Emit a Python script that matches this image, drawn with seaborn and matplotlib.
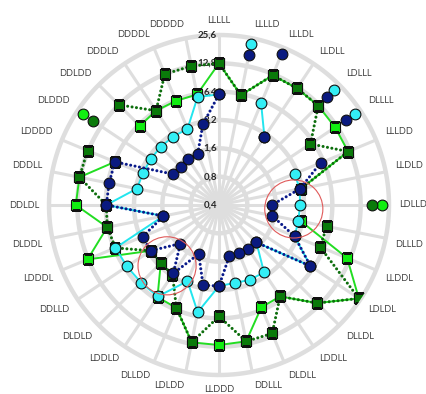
import numpy as np
import matplotlib
matplotlib.use("Agg")
import matplotlib.pyplot as plt
import seaborn as sns
import pandas as pd

categories = ["LLLLL", "LLLLD", "LLLDL", "LLDLL", "LDLLL", "DLLLL", "LLLDD", "LLDLD",
              "LDLLD", "DLLLD", "LLDDL", "LDLDL", "DLLDL", "LDDLL", "DLDLL", "DDLLL",
              "LLDDD", "LDLDD", "DLLDD", "LDDLD", "DLDLD", "DDLLD", "LDDDL", "DLDDL",
              "DDLDL", "DDDLL", "LDDDD", "DLDDD", "DDLDD", "DDDLD", "DDDDL", "DDDDD"]

ring_values = [0.4, 0.8, 1.6, 3.2, 6.4, 12.8, 25.6]
ring_labels = ["0,4", "0,8", "1,6", "3,2", "6,4", "12,8", "25,6"]

nan = np.nan
lime_vals = [12.8, 6.2, 12.4, 12.4, 12.4, 12.2, 12.2, 3.1, nan, 3.1, 11.9, 24.5, 11.9, 5.9, 6.0, 12.0,
             12.3, 12.3, 6.1, 6.0, 3.0, 3.0, 13.0, 6.5, 13.3, 13.0, 6.3, nan, 6.2, 6.4, 6.3, 6.3]
dark_vals = [12.8, 6.2, 12.4, 12.4, 12.4, 5.9, 12.2, 3.1, nan, 5.9, 5.8, 24.5, 11.9, 5.9, 12.0, 12.0,
             6.1, 12.3, 6.1, 3.1, 3.0, 3.0, 6.2, 6.5, 6.3, 13.0, 13.0, nan, 12.8, 6.4, 12.8, 12.8]
cyan_vals = [6.0, nan, 5.9, 2.96, nan, nan, 2.96, 3.0, 2.9, 2.9, 2.96, 5.9, 1.46, 2.9, 2.9, 2.8,
             2.9, 5.8, 3.0, 5.9, 5.9, 6.0, 6.2, 1.6, 6.3, 3.1, 3.0, 3.0, 3.0, 3.0, 3.0, 5.9]
navy_vals = [6.0, nan, nan, 2.96, nan, nan, 5.9, 3.0, 1.46, 1.5, 2.96, 5.9, 1.46, 1.46, 1.44, 1.44,
             2.9, 2.96, 1.46, 3.0, 1.52, 3.0, 3.0, 1.6, 6.3, 6.2, 6.3, 1.56, 1.5, 1.56, 1.56, 3.0]

# isolated points outside the main traces
cyan_extra_idx = [1, 4, 5]
cyan_extra_vals = [22.2, 21.6, 21.6]
navy_extra_idx = [1, 2, 4, 5]
navy_extra_vals = [17.0, 22.0, 16.7, 17.0]
lime_extra_idx = [8, 27]
lime_extra_vals = [21.6, 21.8]
dark_extra_idx = [8, 27]
dark_extra_vals = [16.7, 16.5]

# highlighted spots: (category position, value)
highlight_pos = [8.27, 19.6]
highlight_vals = [2.5, 2.83]

n = len(categories)
theta = np.arange(n) * 2 * np.pi / n

sns.set_style("white")
plt.rcParams["font.family"] = ["Lato", "DejaVu Sans"]

fig = plt.figure(figsize=(4.27, 3.94), dpi=100)
cx, cy, R = 219, 205, 170
ax = fig.add_axes([(cx - R) / 427, (394 - cy - R) / 394, 2 * R / 427, 2 * R / 394], projection="polar")
ax.set_theta_zero_location("N")
ax.set_theta_direction(-1)
ax.set_rscale("log", base=2)
ax.set_rlim(ring_values[0], ring_values[-1])
ax.grid(False)
ax.set_xticks([])
ax.set_yticks([])
ax.spines["polar"].set_visible(False)
ax.patch.set_alpha(0)

grid_color = "#dedede"
circ = np.linspace(0, 2 * np.pi, 400)
for v in ring_values[1:]:
    ax.plot(circ, np.full_like(circ, v), color=grid_color, lw=3.2, zorder=0, clip_on=False)
for t in theta:
    ax.plot([t, t], [ring_values[0], ring_values[-1]], color=grid_color, lw=2.2, zorder=0,
            solid_capstyle="butt", clip_on=False)

for v, lab in zip(ring_values, ring_labels):
    ax.annotate(lab, (0, v), xytext=(-1.5, 0), textcoords="offset points", ha="right", va="center",
                fontsize=7, fontweight="bold", color="#262626", zorder=1)

for t, lab in zip(theta, categories):
    s, c = np.sin(t), np.cos(t)
    ha = "left" if s > 0.15 else ("right" if s < -0.15 else "center")
    va = "bottom" if c > 0.15 else ("top" if c < -0.15 else "center")
    ax.annotate(lab, (t, ring_values[-1]), xytext=(7 * s, 7 * c), textcoords="offset points",
                ha=ha, va=va, fontsize=6.6, color="#404040", annotation_clip=False)


def runs(vals):
    """Contiguous stretches of valid values around the closed loop."""
    vals = np.asarray(vals, dtype=float)
    th = np.append(theta, theta[0] + 2 * np.pi)
    vv = np.append(vals, vals[0])
    out, cur = [], []
    for t, v in zip(th, vv):
        if np.isnan(v):
            if len(cur) > 1:
                out.append(cur)
            cur = []
        else:
            cur.append((t, v))
    if len(cur) > 1:
        out.append(cur)
    return out


dotted = (0, (0.01, 1.45))
series = [
    (lime_vals, lime_extra_idx, lime_extra_vals, "#22dd22", "-", 1.4, "s", "#11ee11"),
    (dark_vals, dark_extra_idx, dark_extra_vals, "#0d6e0d", dotted, 2.2, "s", "#0a7a0a"),
    (cyan_vals, cyan_extra_idx, cyan_extra_vals, "#22e5ee", "-", 1.4, "o", "#33eef5"),
    (navy_vals, navy_extra_idx, navy_extra_vals, "#0a1a8a", dotted, 2.2, "o", "#0a1a80"),
]
z = 3
for vals, eidx, evals, lc, ls, lw, mk, fc in series:
    for seg in runs(vals):
        seg = pd.DataFrame(seg, columns=["theta", "value"])
        sns.lineplot(data=seg, x="theta", y="value", ax=ax, sort=False, color=lc, linestyle=ls,
                     lw=lw, zorder=z, estimator=None, dash_capstyle="round")
    v = np.asarray(vals, dtype=float)
    ok = ~np.isnan(v)
    ax.scatter(theta[ok], v[ok], marker=mk, s=46 if mk == "s" else 60, facecolor=fc,
               edgecolor="#101010", linewidth=0.8, zorder=z + 0.5)
    ax.scatter(theta[eidx], evals, marker="o", s=60, facecolor=fc, edgecolor="#101010",
               linewidth=0.8, zorder=z + 0.5, clip_on=False)
    z += 1

ax.scatter(np.array(highlight_pos) * 2 * np.pi / n, highlight_vals, s=1750, facecolor="none",
           edgecolor="#e05a5a", linewidth=0.8, zorder=10)

fig.savefig("out.png", dpi=100)
